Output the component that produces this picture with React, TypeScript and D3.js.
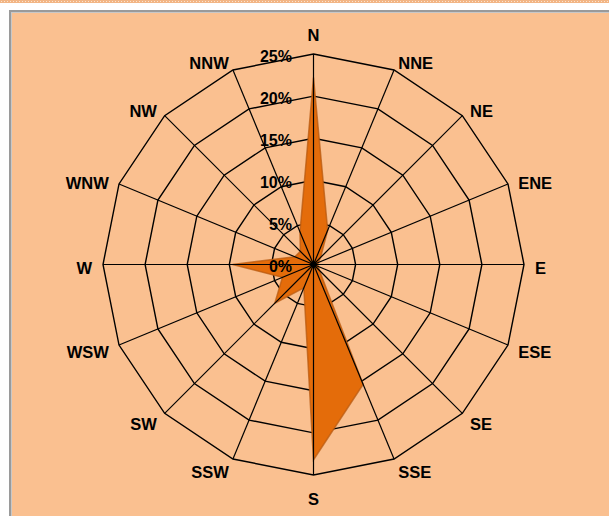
import React from "react";
import * as d3 from "d3";

const directions = ["N","NNE","NE","ENE","E","ESE","SE","SSE","S","SSW","SW","WSW","W","WNW","NW","NNW"];
const frequency = [22.2, 4.4, 1.2, 0.6, 0.5, 0.6, 1.0, 15.4, 23.2, 3.0, 6.5, 4.0, 9.6, 2.4, 2.2, 4.2];
const ringTicks = [0, 5, 10, 15, 20, 25];
const tickLabels = ["0%", "5%", "10%", "15%", "20%", "25%"];

const W = 609, H = 516;
const cx = 313.5, cy = 264.5, R = 210.5;
const FONT = "'Liberation Sans', Arial, sans-serif";

export default function App() {
  const r = d3.scaleLinear().domain([0, 25]).range([0, R]);
  const ang = d3.scaleLinear().domain([0, directions.length]).range([0, 2 * Math.PI]);
  const pt = (i: number, v: number): [number, number] => {
    const a = ang(i);
    return [cx + r(v) * Math.sin(a), cy - r(v) * Math.cos(a)];
  };
  const closed = d3.line<[number, number]>().curve(d3.curveLinearClosed);

  const rings = ringTicks.slice(1).map((t) => closed(directions.map((_, i) => pt(i, t))) as string);
  const dataPath = closed(frequency.map((v, i) => pt(i, v))) as string;

  const labelR = R + 11;
  return (
    <svg width={W} height={H} style={{ position: "absolute", left: 0, top: 0, display: "block" }}>
      <defs>
        <pattern id="dots" width="3" height="3" patternUnits="userSpaceOnUse">
          <rect width="3" height="3" fill="#F2B584" />
          <rect x="1" y="1" width="1" height="1" fill="#FBE3CF" />
        </pattern>
      </defs>
      <rect x={0} y={0} width={W} height={H} fill="#ffffff" />
      <rect x={0} y={0} width={W} height={3} fill="url(#dots)" />
      <rect x={9} y={10} width={W - 9} height={H - 10} fill="#9a9a9a" />
      <rect x={11} y={12} width={W - 11} height={H - 12} fill="#c8c8c8" />
      <rect x={12} y={13} width={W - 12} height={H - 13} fill="#FAC090" />

      {rings.map((d, i) => (
        <path key={"r" + i} d={d} fill="none" stroke="#000" strokeWidth={1.4} strokeLinejoin="miter" />
      ))}

      <path d={dataPath} fill="#E46C0A" stroke="#B85A10" strokeOpacity={0.75} strokeWidth={1.5} strokeLinejoin="miter" />

      {directions.map((_, i) => {
        const [x, y] = pt(i, 25);
        return <line key={"s" + i} x1={cx} y1={cy} x2={x} y2={y} stroke="#000" strokeWidth={1.2} />;
      })}
      <circle cx={cx} cy={cy} r={3.2} fill="#000" />

      {ringTicks.map((t, i) => (
        <text key={"t" + i} x={cx - 21.5} y={cy - r(t) + 7.5} textAnchor="end" fontFamily={FONT}
          fontWeight="bold" fontSize={16} fill="#000">{tickLabels[i]}</text>
      ))}

      {directions.map((d, i) => {
        const a = ang(i);
        const s = Math.sin(a), c = Math.cos(a);
        const px = cx + labelR * s, py = cy - labelR * c;
        const anchor = s > 0.01 ? "start" : s < -0.01 ? "end" : "middle";
        let by = py + 9;
        if (c > 0.99) by = py - 2;
        else if (c < -0.99) by = py + 19;
        return (
          <text key={"d" + i} x={px} y={by} textAnchor={anchor} fontFamily={FONT}
            fontWeight="bold" fontSize={16.5} fill="#000">{d}</text>
        );
      })}
    </svg>
  );
}
